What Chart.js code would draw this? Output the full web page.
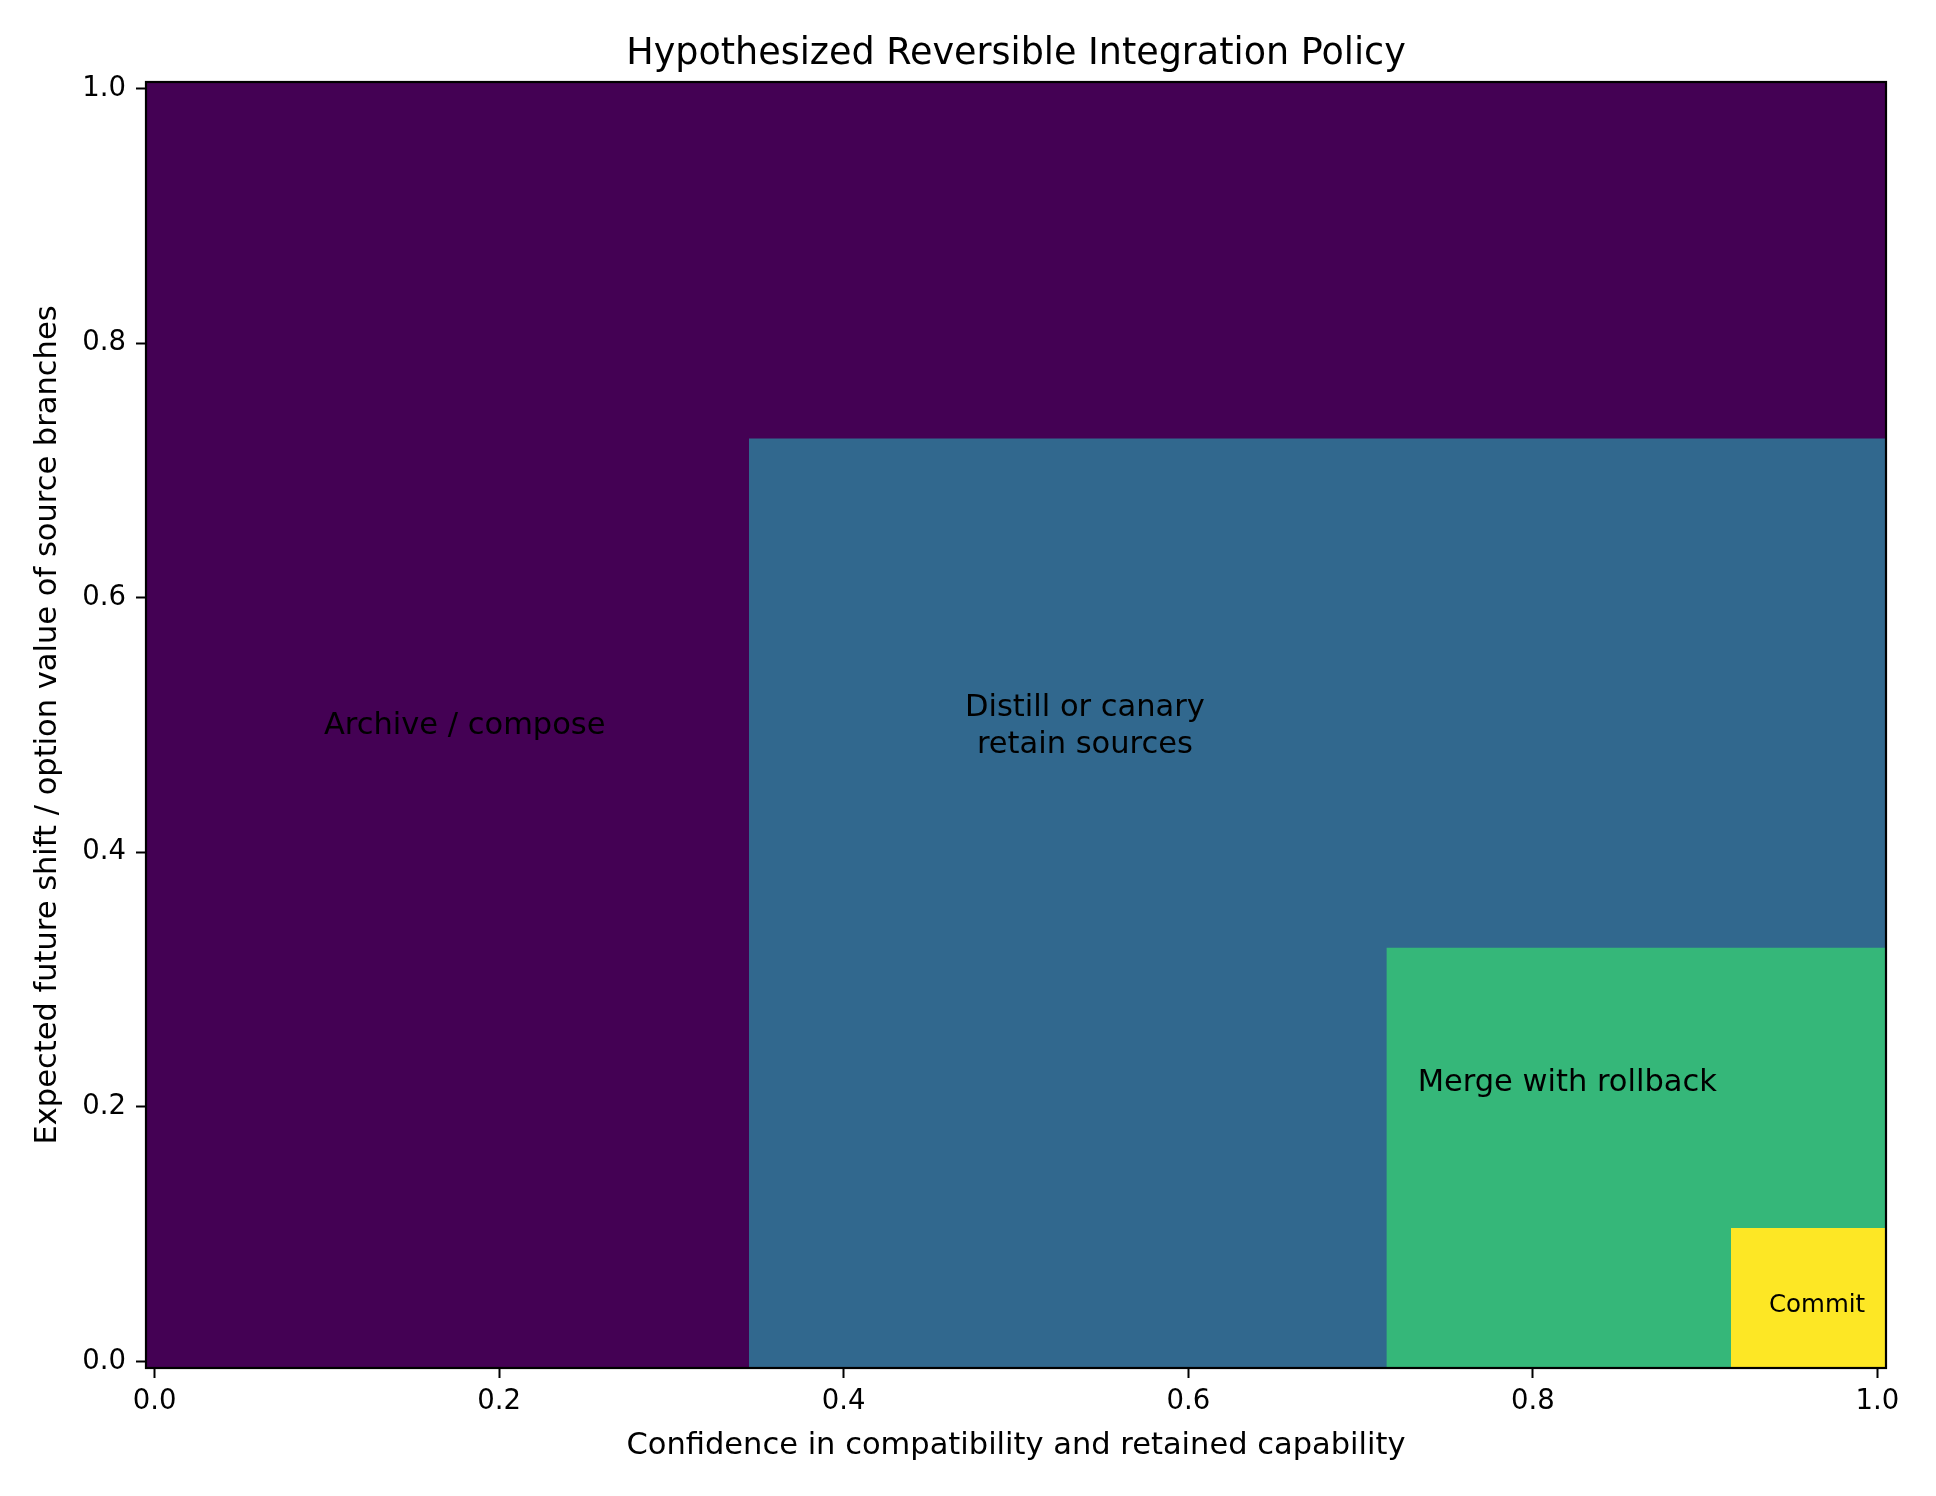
<!DOCTYPE html>
<html lang="en">
<head>
    <meta charset="UTF-8">
    <title>Hypothesized Reversible Integration Policy</title>
    <style>
        body { margin: 0; background: #ffffff; }
        canvas { display: block; }
    </style>
</head>
<body>
    <canvas id="policyChart" width="1936" height="1496"></canvas>
    <script src="https://cdn.jsdelivr.net/npm/chart.js@4/dist/chart.umd.min.js"></script>
    <script>
        // policy regions, from the outermost to the innermost one
        var regionNames = ['Archive / compose', 'Distill or canary\nretain sources', 'Merge with rollback', 'Commit'];
        var regionLeft = [-0.005, 0.345, 0.715, 0.915];   // confidence where region begins
        var regionTop = [1.005, 0.725, 0.325, 0.105];     // shift / option value where region ends
        var gridEnd = 1.005;
        var regionColors = ['#440154', '#31688e', '#35b779', '#fde725'];

        var labelX = [0.18, 0.54, 0.82, 0.965];
        var labelY = [0.50, 0.50, 0.22, 0.045];
        var labelSize = [30.5, 30.5, 30.5, 24.5];

        var axisTicks = [0, 0.2, 0.4, 0.6, 0.8, 1.0];

        var fontFamily = "'DejaVu Sans', sans-serif";

        var datasets = regionNames.map(function (name, i) {
            return {
                label: name,
                data: [{ x: regionLeft[i], y: regionTop[i] }, { x: gridEnd, y: regionTop[i] }],
                fill: 'start',
                backgroundColor: regionColors[i],
                borderWidth: 0,
                pointRadius: 0,
                order: regionNames.length - i
            };
        });

        var policyPlugin = {
            id: 'policyText',
            afterDatasetsDraw: function (chart) {
                var ctx = chart.ctx;
                var xs = chart.scales.x;
                var ys = chart.scales.y;
                var area = chart.chartArea;
                ctx.save();
                ctx.fillStyle = '#000000';
                ctx.textAlign = 'center';
                ctx.textBaseline = 'middle';
                regionNames.forEach(function (name, i) {
                    var lines = name.split('\n');
                    var lh = labelSize[i] * 1.2;
                    ctx.font = labelSize[i] + 'px ' + fontFamily;
                    var px = xs.getPixelForValue(labelX[i]);
                    var py = ys.getPixelForValue(labelY[i]) - (lines.length - 1) * lh / 2 + 1.5;
                    lines.forEach(function (line, j) {
                        ctx.fillText(line, px, py + j * lh);
                    });
                });
                // frame
                ctx.strokeStyle = '#000000';
                ctx.lineWidth = 2.2;
                ctx.strokeRect(area.left, area.top, area.right - area.left, area.bottom - area.top);
                // title
                ctx.font = '36.5px ' + fontFamily;
                ctx.textBaseline = 'alphabetic';
                ctx.fillText('Hypothesized Reversible Integration Policy', (area.left + area.right) / 2, 64);
                ctx.restore();
            }
        };

        function fixTicks(scale) {
            scale.ticks = axisTicks.map(function (v) { return { value: v }; });
        }

        var chart = new Chart(document.getElementById('policyChart'), {
            type: 'line',
            data: { datasets: datasets },
            options: {
                responsive: false,
                devicePixelRatio: 1,
                animation: false,
                layout: { padding: { top: 82, right: 50, left: 0, bottom: 0 } },
                plugins: {
                    legend: { display: false },
                    tooltip: { enabled: false },
                    title: { display: false }
                },
                scales: {
                    x: {
                        type: 'linear',
                        min: -0.005,
                        max: 1.005,
                        afterBuildTicks: fixTicks,
                        afterFit: function (s) { s.height = 128; },
                        border: { display: false },
                        grid: { drawOnChartArea: false, drawTicks: true, tickLength: 10, tickWidth: 2, tickColor: '#000000' },
                        ticks: {
                            color: '#000000',
                            padding: 7,
                            maxRotation: 0,
                            font: { family: fontFamily, size: 27.5 },
                            callback: function (v) { return v.toFixed(1); }
                        },
                        title: {
                            display: true,
                            text: 'Confidence in compatibility and retained capability',
                            color: '#000000',
                            font: { family: fontFamily, size: 30.5 },
                            padding: { top: 0, bottom: 31.5 }
                        }
                    },
                    y: {
                        type: 'linear',
                        min: -0.005,
                        max: 1.005,
                        afterBuildTicks: fixTicks,
                        afterFit: function (s) { s.width = 146; },
                        border: { display: false },
                        grid: { drawOnChartArea: false, drawTicks: true, tickLength: 10, tickWidth: 2, tickColor: '#000000' },
                        ticks: {
                            color: '#000000',
                            padding: 10,
                            font: { family: fontFamily, size: 27.5 },
                            callback: function (v) { return v.toFixed(1); }
                        },
                        title: {
                            display: true,
                            text: 'Expected future shift / option value of source branches',
                            color: '#000000',
                            font: { family: fontFamily, size: 30.5 },
                            padding: { top: 30, bottom: 0 }
                        }
                    }
                }
            },
            plugins: [policyPlugin]
        });
    </script>
</body>
</html>
